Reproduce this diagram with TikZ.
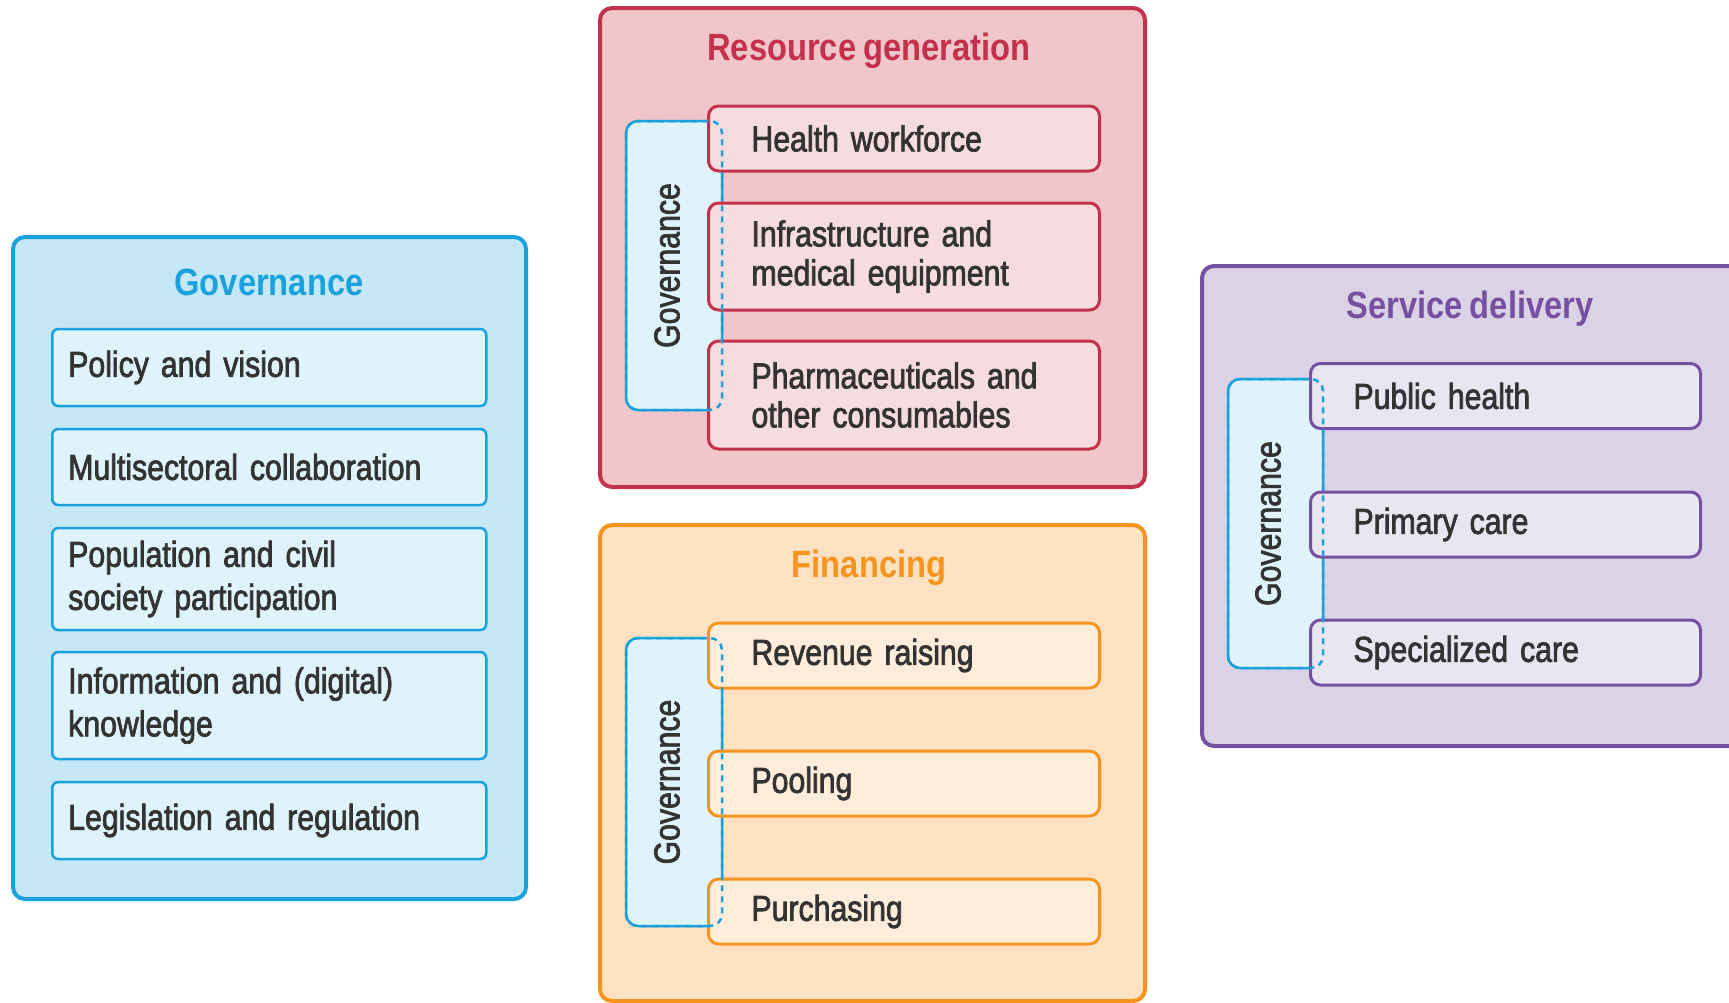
\documentclass[tikz,border=0pt]{standalone}
\usepackage{fontspec}
\setmainfont{Liberation Sans}[FakeStretch=0.86, WordSpace=0.8]
\newfontfamily\bodyfont{Liberation Sans}[FakeStretch=0.84, FakeBold=2, WordSpace=0.7]
\usepackage{tikz}
\usetikzlibrary{positioning}

\definecolor{govline}{HTML}{1BA1DB}
\definecolor{govfill}{HTML}{C6E8F6}
\definecolor{govpale}{HTML}{DFF3FB}
\definecolor{resline}{HTML}{C4314B}
\definecolor{resfill}{HTML}{F0C6CA}
\definecolor{respale}{HTML}{F5DCDF}
\definecolor{finline}{HTML}{F7941E}
\definecolor{finfill}{HTML}{FDE1C3}
\definecolor{finpale}{HTML}{FEEDDB}
\definecolor{srvline}{HTML}{7651A1}
\definecolor{srvfill}{HTML}{DBD2E6}
\definecolor{srvpale}{HTML}{EAE6F1}
\definecolor{bodytext}{HTML}{333333}

\tikzset{
	outer/.style 2 args={draw=#1, fill=#2, line width=4pt, rounded corners=12pt},
	boxtitle/.style={text=#1, font=\fontsize{38}{42}\selectfont\bfseries},
	item/.style 2 args={draw=#1, fill=#2, line width=3pt, rounded corners=10pt,
		anchor=west, align=left, text=bodytext, font=\bodyfont\fontsize{36}{39}\selectfont},
	govside/.style={draw=govline, fill=govpale, line width=2.5pt, rounded corners=12pt},
	govdash/.style={draw=govline, line width=2.5pt, rounded corners=12pt, dash pattern=on 6pt off 5pt},
	govlabel/.style={rotate=90, text=bodytext, font=\bodyfont\fontsize{36}{40}\selectfont},
}

\begin{document}
\begin{tikzpicture}[x=1pt, y=-1pt]
		\clip (0,0) rectangle (1729,1002);

		% governance
		\draw [outer={govline}{govfill}] (13,237) rectangle (526,899);
		\node [boxtitle=govline] (govtitle) at (269,282) {Governance};
		\begin{scope}[every node/.style={item={govline}{govpale}, text width=402pt, inner xsep=16pt,
				font=\bodyfont\fontsize{36}{43}\selectfont, line width=2.5pt, rounded corners=6pt}]
			\node [minimum height=77pt] (policy) at (51,367.5) {Policy and vision};
			\node [minimum height=76pt] (multi) at (51,467) {Multisectoral collaboration};
			\node [minimum height=102pt] (popul) at (51,579) {Population and civil\\society participation};
			\node [minimum height=107pt] (info) at (51,705.5) {Information and (digital)\\knowledge};
			\node [minimum height=77pt] (legis) at (51,820.5) {Legislation and regulation};
		\end{scope}

		% resource generation
		\draw [outer={resline}{resfill}] (600,8) rectangle (1145,487);
		\node [boxtitle=resline] (restitle) at (869,51) {Resource generation};
		\draw [govside] (626,121) rectangle (722,410);
		\node [govlabel] (resgov) at (667,265.5) {Governance};
		\begin{scope}[every node/.style={item={resline}{respale}, text width=305pt, inner xsep=43pt}]
			\node [minimum height=65pt] (health) at (707,138.5) {Health workforce};
			\node [minimum height=107pt] (infra) at (707,256.5) {Infrastructure and\\medical equipment};
			\node [minimum height=108pt] (pharma) at (707,395) {Pharmaceuticals and\\other consumables};
		\end{scope}
		\draw [govdash] (626,121) rectangle (722,410);

		% financing
		\draw [outer={finline}{finfill}] (600,525) rectangle (1145,1001);
		\node [boxtitle=finline] (fintitle) at (869,568) {Financing};
		\draw [govside] (626,638) rectangle (722,926);
		\node [govlabel] (fingov) at (667,782) {Governance};
		\begin{scope}[every node/.style={item={finline}{finpale}, text width=305pt, inner xsep=43pt, minimum height=65pt}]
			\node (revenue) at (707,655.5) {Revenue raising};
			\node (pooling) at (707,783.5) {Pooling};
			\node (purchasing) at (707,911.5) {Purchasing};
		\end{scope}
		\draw [govdash] (626,638) rectangle (722,926);

		% service delivery
		\draw [outer={srvline}{srvfill}] (1202,266) rectangle (1760,746);
		\node [boxtitle=srvline] (srvtitle) at (1470,309) {Service delivery};
		\draw [govside] (1228,379) rectangle (1323,668);
		\node [govlabel] (srvgov) at (1268,523.5) {Governance};
		\begin{scope}[every node/.style={item={srvline}{srvpale}, text width=304pt, inner xsep=43pt, minimum height=65pt}]
			\node (public) at (1309,396) {Public health};
			\node (primary) at (1309,524.5) {Primary care};
			\node (special) at (1309,652.5) {Specialized care};
		\end{scope}
		\draw [govdash] (1228,379) rectangle (1323,668);
	\end{tikzpicture}
\end{document}
